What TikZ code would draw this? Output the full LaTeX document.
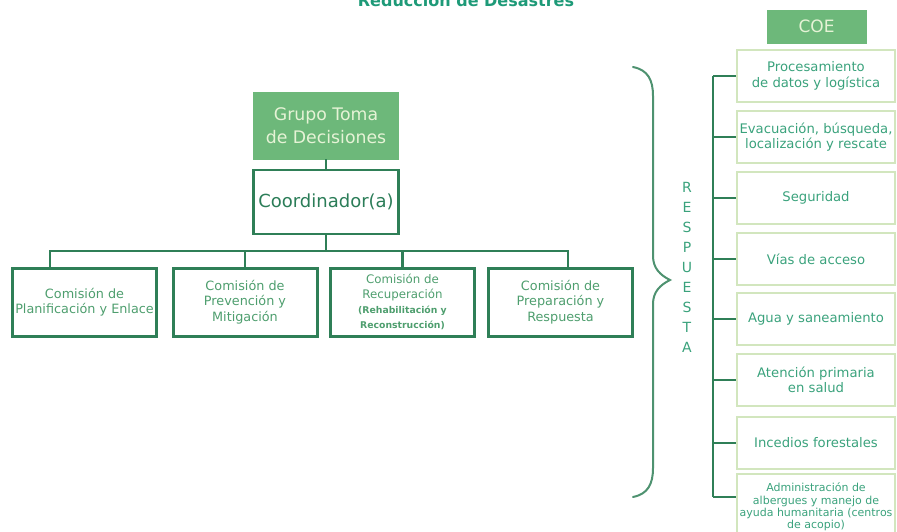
\documentclass[tikz,border=0pt]{standalone}
\usepackage{fontspec}
\setmainfont{DejaVu Sans}
\usepackage{xcolor}
\usetikzlibrary{positioning}
\definecolor{boxline}{HTML}{2F7F57}
\definecolor{boxfill}{HTML}{6DB87A}
\definecolor{paletext}{HTML}{E6F3D6}
\definecolor{commtext}{HTML}{4E9E6E}
\definecolor{coordtext}{HTML}{2B7D58}
\definecolor{coetext}{HTML}{3AA27C}
\definecolor{coeline}{HTML}{D2E6BE}
\definecolor{titletext}{HTML}{1E9A78}
\tikzstyle{greenbox} = [draw=boxfill, fill=boxfill, text=paletext, align=center, inner sep=0pt]
\tikzstyle{coordbox} = [draw=boxline, line width=2.5pt, fill=white, text=coordtext, minimum width=145pt, minimum height=64pt, font=\fontsize{18}{22}\selectfont]
\tikzstyle{commission} = [draw=boxline, line width=3pt, text=commtext, align=center, minimum width=144pt, minimum height=68pt, inner sep=0pt, font=\fontsize{12.8}{15.5}\selectfont]
\tikzstyle{coebox} = [draw=coeline, line width=2pt, text=coetext, align=center, minimum width=158pt, minimum height=52pt, inner sep=0pt, font=\fontsize{13.2}{15.5}\selectfont]
\tikzstyle{conn} = [draw=boxline, line width=2.5pt]
\tikzstyle{letter} = [text=coetext, font=\fontsize{14}{15}\selectfont, inner sep=0pt]

\begin{document}
\begin{tikzpicture}[x=1pt, y=-1pt]
        \useasboundingbox (0,0) rectangle (897,532);
        \node[text=titletext, anchor=base, font=\bfseries\fontsize{16}{19}\selectfont] (title) at (466,7) {Reducción de Desastres};

        % left side: decision group and commissions
        \node[greenbox, minimum width=145pt, minimum height=67pt, font=\fontsize{17.3}{23}\selectfont] (grupo) at (326,125.5) {Grupo Toma\\de Decisiones};
        \node[coordbox] (coord) at (326,202) {Coordinador(a)};

        \node[commission] (plan) at (84.5,302) {Comisión de\\Planificación y Enlace};
        \node[commission] (prev) at (245,302) {Comisión de\\Prevención y\\Mitigación};
        \node[commission, font=\fontsize{11.8}{15}\selectfont] (recu) at (402.5,302) {Comisión de\\Recuperación\\{\bfseries\fontsize{9.3}{15}\selectfont (Rehabilitación y}\\{\bfseries\fontsize{9.3}{15}\selectfont Reconstrucción)}};
        \node[commission] (prep) at (560.5,302) {Comisión de\\Preparación y\\Respuesta};

        \coordinate (bar) at (326,251);
        \draw[conn] (grupo) -- (coord);
        \draw[conn] (coord.south) -- (bar);
        \draw[conn] ([xshift=-34.5pt]plan.north) |- (bar) -| ([xshift=7.5pt]prep.north);
        \draw[conn] (prev.north) -- (prev.north |- bar);
        \draw[conn] (recu.north) -- (recu.north |- bar);

        % brace and response label
        \draw[draw=boxline!85, line width=2pt, line cap=round]
            (633,67) .. controls (648,70) and (653,80) .. (653,96) -- (653,256)
            .. controls (653,268) and (660,275) .. (670,280)
            .. controls (660,285) and (653,292) .. (653,304) -- (653,468)
            .. controls (653,484) and (648,494) .. (633,497);
        \foreach \l [count=\i] in {R,E,S,P,U,E,S,T,A}
            \node[letter] (letter\i) at (687,167+20*\i) {\l};

        % right side: COE areas
        \node[greenbox, minimum width=99pt, minimum height=33pt, font=\fontsize{17}{20}\selectfont] (coe) at (816.5,26.5) {COE};
        \node[coebox] (datos) at (816,76) {Procesamiento\\de datos y logística};
        \node[coebox] (evac) at (816,137) {Evacuación, búsqueda,\\localización y rescate};
        \node[coebox] (segu) at (816,198) {Seguridad};
        \node[coebox] (vias) at (816,259) {Vías de acceso};
        \node[coebox] (agua) at (816,319) {Agua y saneamiento};
        \node[coebox] (salud) at (816,380) {Atención primaria\\en salud};
        \node[coebox] (fuego) at (816,443) {Incedios forestales};
        \node[coebox, minimum height=66pt, font=\fontsize{11}{12.3}\selectfont] (alber) at (816,507) {Administración de\\albergues y manejo de\\ayuda humanitaria (centros\\de acopio)};

        \coordinate (spine) at (713,0);
        \draw[conn] (spine |- datos.west) -- ([yshift=10pt]spine |- alber.west);
        \foreach \n in {datos,evac,segu,vias,agua,salud,fuego}
            \draw[conn] (spine |- \n.west) -- (\n.west);
        \draw[conn] ([yshift=10pt]spine |- alber.west) -- ([yshift=10pt]alber.west);
    \end{tikzpicture}
\end{document}
